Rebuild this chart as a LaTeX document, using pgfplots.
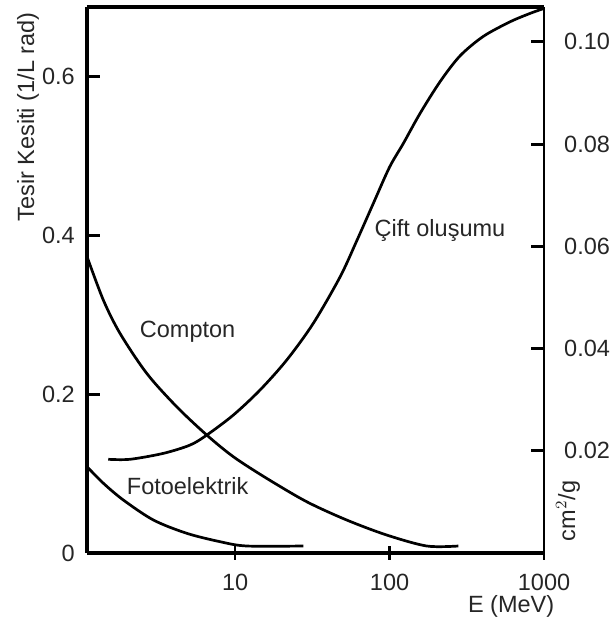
\documentclass[border=0pt]{standalone}
\usepackage{pgfplots}
\pgfplotsset{compat=1.18}
\usepackage{fontspec}
\setmainfont{Liberation Sans}
\begin{document}
\fontsize{11.75}{14}\selectfont
\begin{tikzpicture}
\path[use as bounding box] (-43.5pt,-34pt) rectangle (262pt,276.5pt);
\begin{axis}[
  width=228.5pt, height=273pt, scale only axis,
  at={(0,0)}, anchor=south west,
  xmode=log, xmin=1.1, xmax=1000,
  /pgf/number format/assume math mode=true,
  major tick length=6.5pt,
  tick label style={font=\fontsize{11.75}{14}\selectfont, text=black!85},
  clip=false,
  axis x line=box, axis y line*=left,
  x axis line style={line width=1.8pt,-},
  y axis line style={line width=2.1pt,-},
  ymin=0, ymax=0.687,
  ytick={0,0.2,0.4,0.6}, yticklabels={0,0.2,0.4,0.6},
  ytick pos=left, ytick align=inside,
  ytick style={line width=1.5pt,black},
  xtick={10,100,1000}, xticklabels={10,100,1000},
  xtick pos=bottom, xtick align=center,
  xtick style={line width=1.1pt,black},
  xminorticks=false,
  yticklabel style={xshift=-2pt},
  xticklabel style={yshift=-3pt},
]
\addplot[black, line width=1.35pt, smooth] coordinates {
(1.1,0.373) (1.405,0.318) (1.80,0.2763) (2.68,0.226) (4.19,0.184) (6.56,0.1484)
(9.75,0.1211) (16.0,0.094) (29.1,0.0645) (52.8,0.0415) (95.9,0.0226) (174,0.0088) (279,0.0088)
};
\addplot[black, line width=1.35pt, smooth] coordinates {
(1.51,0.1179) (2.09,0.1179) (3.44,0.1254) (5.11,0.1358) (6.56,0.1484) (9.75,0.1736)
(14.5,0.205) (21.6,0.2428) (32.1,0.289) (47.9,0.3476) (61.4,0.393) (78.6,0.440)
(100,0.4855) (122.8,0.5153) (157.6,0.5531) (212.3,0.593) (286,0.6255) (404.6,0.6500)
(602,0.6683) (811.8,0.6789) (1000,0.6852)
};
\addplot[black, line width=1.35pt, smooth] coordinates {
(1.1,0.1086) (1.405,0.0877) (1.89,0.0667) (2.96,0.0415) (4.86,0.0248) (8.0,0.0142)
(11.9,0.0088) (27.7,0.0088)
};
\node[anchor=base, text=black!85] at (axis cs:4.93,0.2717) {Compton};
\node[anchor=base, text=black!85] at (axis cs:212,0.3987) {Çift oluşumu};
\node[anchor=base, text=black!85] at (axis cs:4.93,0.073) {Fotoelektrik};
\node[rotate=90, text=black!85] at ([xshift=-29.5pt]rel axis cs:0,0.7985) {Tesir Kesiti (1/L rad)};
\node[text=black!85] at ([yshift=-26.5pt]rel axis cs:0.928,0) {E (MeV)};
\node[rotate=90, text=black!85] at ([xshift=12pt]rel axis cs:1,0.077) {cm$^{2}$/g};
\end{axis}
\begin{axis}[
  width=228.5pt, height=273pt, scale only axis,
  at={(0,0)}, anchor=south west,
  xmin=0, xmax=1,
  /pgf/number format/assume math mode=true,
  major tick length=6.5pt,
  tick label style={font=\fontsize{11.75}{14}\selectfont, text=black!85},
  axis x line=none, axis y line*=right,
  y axis line style={line width=1.1pt,-},
  ymin=0, ymax=0.1068,
  xtick=\empty,
  ytick={0.02,0.04,0.06,0.08,0.10},
  yticklabels={0.02,0.04,0.06,0.08,0.10},
  ytick pos=right, ytick align=inside,
  ytick style={line width=1.5pt,black},
  yticklabel style={xshift=6pt},
]
\end{axis}
\end{tikzpicture}
\end{document}
